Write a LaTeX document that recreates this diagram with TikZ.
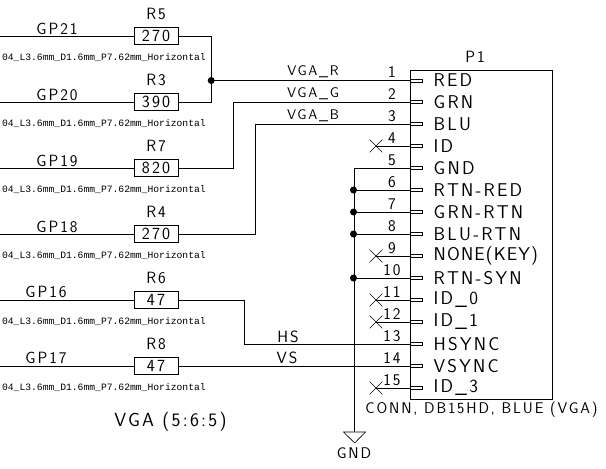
\documentclass[tikz,border=0pt]{standalone}
\usepackage{fontspec}
\usetikzlibrary{shapes.misc}
\setsansfont{Latin Modern Sans}[LetterSpace=12]
\newfontfamily\footprintfont{Liberation Mono}
\tikzset{
% Text styles, sizes in the px of the picture
ref text/.style={inner sep=0,font=\sffamily\fontsize{16.3}{16.3}\selectfont},
val text/.style={inner sep=0,font=\sffamily\fontsize{15.5}{15.5}\selectfont},
net text/.style={inner sep=0,font=\sffamily\fontsize{14}{14}\selectfont},
name text/.style={inner sep=0,anchor=west,label distance=11,font=\sffamily\fontsize{18.5}{18.5}\selectfont},
fp text/.style={inner sep=0,anchor=east,font=\footprintfont\fontsize{9.7}{9.7}\selectfont},
% Parts of the schematic
res box/.style={draw,rectangle,minimum width=44,minimum height=17,inner sep=0,line width=1pt,font=\sffamily\fontsize{17}{17}\selectfont},
pin stub/.style={draw,rectangle,minimum width=12,minimum height=3,inner sep=0,anchor=west,line width=0.8pt,label distance=11},
wire/.style={line width=1pt},
dot/.style={circle,fill=black,inner sep=0,minimum size=7},
nc/.style={line width=0.6pt},
open pin/.style={nc,draw,cross out,inner sep=0,minimum size=12}
}
\begin{document}
\begin{tikzpicture}[x=1pt,y=-1pt]
\useasboundingbox (0,0) rectangle (606,469);
% Resistors
\node(r5)[res box] at (156,36){270};
\node(r3)[res box] at (156,102){390};
\node(r7)[res box] at (156,168){820};
\node(r4)[res box] at (156,234){270};
\node(r6)[res box] at (156,300){47};
\node(r8)[res box] at (156,366){47};
% Reference names
\node(t5)[ref text] at (156,13.5){R5};
\node(t3)[ref text] at (156,80){R3};
\node(t7)[ref text] at (156,146){R7};
\node(t4)[ref text] at (156,212){R4};
\node(t6)[ref text] at (156,278){R6};
\node(t8)[ref text] at (156,344){R8};
% Footprints
\node(f5)[fp text] at (206,57.7){04\_L3.6mm\_D1.6mm\_P7.62mm\_Horizontal};
\node(f3)[fp text] at (206,123.7){04\_L3.6mm\_D1.6mm\_P7.62mm\_Horizontal};
\node(f7)[fp text] at (206,189.7){04\_L3.6mm\_D1.6mm\_P7.62mm\_Horizontal};
\node(f4)[fp text] at (206,255.7){04\_L3.6mm\_D1.6mm\_P7.62mm\_Horizontal};
\node(f6)[fp text] at (206,321.7){04\_L3.6mm\_D1.6mm\_P7.62mm\_Horizontal};
\node(f8)[fp text] at (206,387.7){04\_L3.6mm\_D1.6mm\_P7.62mm\_Horizontal};
% Connector body
\node(p1)[draw,rectangle,line width=1pt,minimum width=142.5,minimum height=329.5,inner sep=0,anchor=north west] at (409.7,69.5){};
\node(p1 ref)[ref text] at (475,57){P1};
\node(p1 val)[val text] at (481.5,410){CONN, DB15HD, BLUE (VGA)};
% Pin stubs with their names
\node(s1)[pin stub,label={[name text]right:RED}] at (409.7,80.5){};
\node(s2)[pin stub,label={[name text]right:GRN}] at (409.7,102.3){};
\node(s3)[pin stub,label={[name text]right:BLU}] at (409.7,124.3){};
\node(s4)[pin stub,label={[name text]right:ID}] at (409.7,146){};
\node(s5)[pin stub,label={[name text]right:GND}] at (409.7,168){};
\node(s6)[pin stub,label={[name text]right:RTN-RED}] at (409.7,190){};
\node(s7)[pin stub,label={[name text]right:GRN-RTN}] at (409.7,212){};
\node(s8)[pin stub,label={[name text]right:BLU-RTN}] at (409.7,234){};
\node(s9)[pin stub,label={[name text]right:{\addfontfeature{LetterSpace=6}NONE(KEY)}}] at (409.7,256){};
\node(s10)[pin stub,label={[name text]right:RTN-SYN}] at (409.7,278){};
\node(s11)[pin stub,label={[name text]right:ID\_0}] at (409.7,300){};
\node(s12)[pin stub,label={[name text]right:ID\_1}] at (409.7,322){};
\node(s13)[pin stub,label={[name text]right:HSYNC}] at (409.7,344){};
\node(s14)[pin stub,label={[name text]right:VSYNC}] at (409.7,366){};
\node(s15)[pin stub,label={[name text]right:ID\_3}] at (409.7,388){};
% Pin numbers
\node(n1)[ref text] at (392,72.5){1};
\node(n2)[ref text] at (392,94.3){2};
\node(n3)[ref text] at (392,116.3){3};
\node(n4)[ref text] at (392,138){4};
\node(n5)[ref text] at (392,160){5};
\node(n6)[ref text] at (392,182){6};
\node(n7)[ref text] at (392,204){7};
\node(n8)[ref text] at (392,226){8};
\node(n9)[ref text] at (392,248){9};
\node(n10)[ref text] at (392,270){10};
\node(n11)[ref text] at (392,292){11};
\node(n12)[ref text] at (392,314){12};
\node(n13)[ref text] at (392,336){13};
\node(n14)[ref text] at (392,358){14};
\node(n15)[ref text] at (392,380){15};
% Free ends of the input wires
\coordinate(in5) at (0,36);
\coordinate(in3) at (0,102);
\coordinate(in7) at (0,168);
\coordinate(in4) at (0,234);
\coordinate(in6) at (0,300);
\coordinate(in8) at (0,366);
\draw[wire] (in5) -- (r5.west);
\draw[wire] (in3) -- (r3.west);
\draw[wire] (in7) -- (r7.west);
\draw[wire] (in4) -- (r4.west);
\draw[wire] (in6) -- (r6.west);
\draw[wire] (in8) -- (r8.west);
% Input labels
\node(gp21)[ref text] at (57,29){GP21};
\node(gp20)[ref text] at (57,95){GP20};
\node(gp19)[ref text] at (57,161){GP19};
\node(gp18)[ref text] at (57,227){GP18};
\node(gp16)[ref text] at (46,292){GP16};
\node(gp17)[ref text] at (46,358){GP17};
% Wires to the connector
\node(j1)[dot] at (211.2,80.5){};
\draw[wire] (r5.east) -| (j1.center);
\draw[wire] (r3.east) -| (j1.center);
\draw[wire] (j1.center) -- (s1.west);
\coordinate(bend g) at (233,102.3);
\coordinate(bend b) at (255.3,124.3);
\coordinate(bend h) at (244.3,344);
\draw[wire] (r7.east) -| (bend g) -- (s2.west);
\draw[wire] (r4.east) -| (bend b) -- (s3.west);
\draw[wire] (r6.east) -| (bend h) -- (s13.west);
\draw[wire] (r8.east) -- (s14.west);
% Net labels
\node(vga r)[net text] at (313,72){VGA\_R};
\node(vga g)[net text] at (313,93.5){VGA\_G};
\node(vga b)[net text] at (313,115.5){VGA\_B};
\node(hs)[ref text] at (288,336.5){HS};
\node(vs)[ref text] at (287,358){VS};
% Ground rail
\node(j6)[dot] at (353.5,190){};
\node(j7)[dot] at (353.5,212){};
\node(j8)[dot] at (353.5,234){};
\node(j10)[dot] at (353.5,278){};
\coordinate(rail top) at (354.7,168);
\coordinate(rail end) at (354.7,432);
\coordinate(gnd l) at (343.5,432);
\coordinate(gnd r) at (365.5,432);
\coordinate(gnd tip) at (354.7,443);
\draw[wire] (s5.west) -- (rail top) -- (rail end);
\draw[wire] (j6) -- (s6.west);
\draw[wire] (j7) -- (s7.west);
\draw[wire] (j8) -- (s8.west);
\draw[wire] (j10) -- (s10.west);
\draw[nc] (gnd l) -- (gnd r) -- (gnd tip) -- cycle;
\node(gnd)[val text] at (354,453){GND};
% Pins left open
\node(x4)[open pin] at (376,146){};
\node(x9)[open pin] at (376,256){};
\node(x11)[open pin] at (376,300){};
\node(x12)[open pin] at (376,322){};
\node(x15)[open pin] at (376,388){};
\draw[wire] (x4.center) -- (s4.west);
\draw[wire] (x9.center) -- (s9.west);
\draw[wire] (x11.center) -- (s11.west);
\draw[wire] (x12.center) -- (s12.west);
\draw[wire] (x15.center) -- (s15.west);
% Sheet note
\node(note)[inner sep=0,font=\sffamily\fontsize{19}{19}\selectfont] at (170.5,422){VGA (5:6:5)};
\end{tikzpicture}
\end{document}
